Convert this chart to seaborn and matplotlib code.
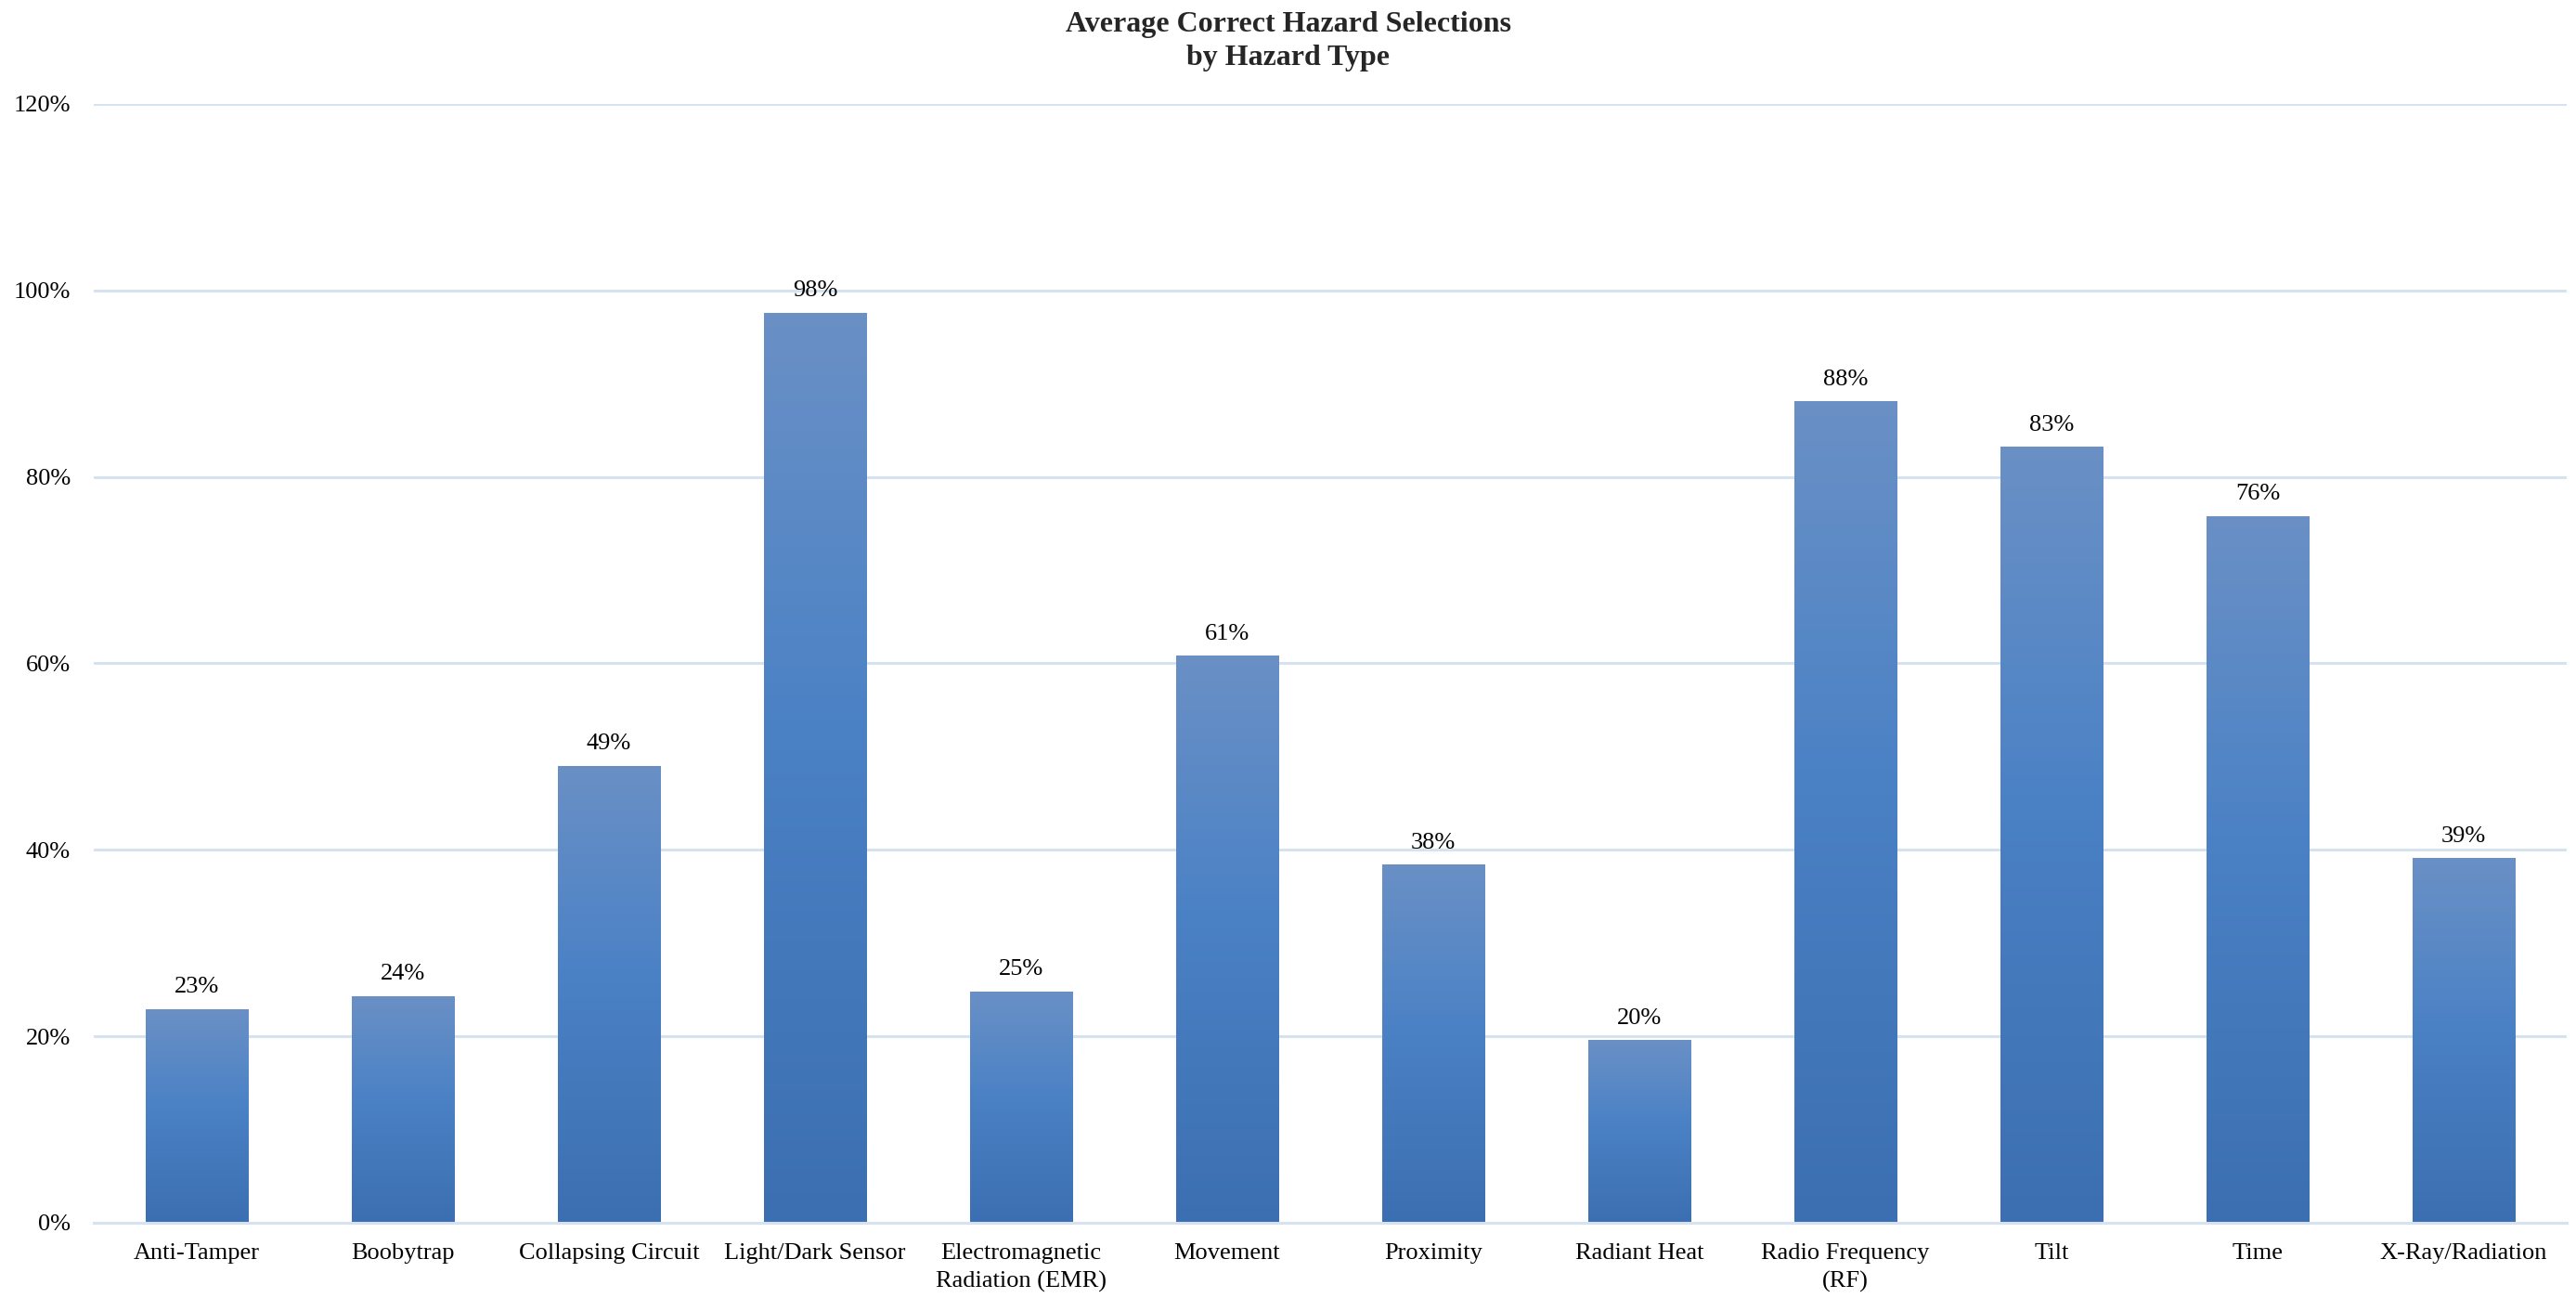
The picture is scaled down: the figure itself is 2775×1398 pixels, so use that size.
import matplotlib
matplotlib.use("Agg")
import matplotlib.pyplot as plt
import numpy as np
import pandas as pd
import seaborn as sns
from matplotlib.colors import LinearSegmentedColormap

# Hazard categories and average share of correct selections (%)
hazards = [
    "Anti-Tamper", "Boobytrap", "Collapsing Circuit", "Light/Dark Sensor",
    "Electromagnetic\nRadiation (EMR)", "Movement", "Proximity", "Radiant Heat",
    "Radio Frequency\n(RF)", "Tilt", "Time", "X-Ray/Radiation",
]
correct_pct = [22.9, 24.3, 49.0, 97.6, 24.8, 60.8, 38.4, 19.6, 88.1, 83.2, 75.8, 39.1]
y_ticks = [0, 20, 40, 60, 80, 100, 120]

df = pd.DataFrame({"hazard": hazards, "pct": correct_pct})

sns.set_theme(style="white")
plt.rcParams["font.family"] = ["Liberation Serif", "DejaVu Serif"]

fig = plt.figure(figsize=(27.75, 13.98), dpi=100)
ax = fig.add_axes([0.0364, 0.058, 0.96, 0.862])

sns.barplot(data=df, x="hazard", y="pct", ax=ax, width=0.5,
            color="#4F84C4", linewidth=0, saturation=1)

# Vertical gradient fill for each bar: lighter top, brighter middle, darker base
grad_cmap = LinearSegmentedColormap.from_list(
    "bar_grad", [(0.0, "#3B6FB1"), (0.55, "#4B82C5"), (1.0, "#6A90C6")])
grad = np.linspace(0, 1, 256).reshape(-1, 1)
for patch in ax.patches:
    x0, y0 = patch.get_x(), patch.get_y()
    w, h = patch.get_width(), patch.get_height()
    im = ax.imshow(grad, cmap=grad_cmap, origin="lower", aspect="auto",
                   extent=(x0, x0 + w, y0, y0 + h), zorder=2,
                   interpolation="bicubic")
    im.set_clip_path(patch)
    patch.set_facecolor("none")

# Value labels above bars
for i, v in enumerate(correct_pct):
    ax.annotate(f"{v:.0f}%", xy=(i, v), xytext=(0, 9), textcoords="offset points",
                ha="center", va="bottom", fontsize=19, color="black", zorder=3)

ax.set_xlim(-0.5, len(hazards) - 0.5)
ax.set_ylim(0, 120)
ax.set_yticks(y_ticks)
ax.set_yticklabels([f"{t}%" for t in y_ticks])
ax.yaxis.grid(True, color="#D6E2F0", linewidth=2.2, zorder=0)
ax.set_axisbelow(True)
for side in ["top", "right", "left"]:
    ax.spines[side].set_visible(False)
ax.spines["bottom"].set_color("#D6E2F0")
ax.spines["bottom"].set_linewidth(2.2)
ax.set_xlabel("")
ax.set_ylabel("")
ax.tick_params(axis="both", length=0, labelsize=19, colors="black")
ax.tick_params(axis="y", pad=18)
ax.tick_params(axis="x", pad=16)
for lbl in ax.get_xticklabels():
    lbl.set_linespacing(1.45)

fig.text(0.5, 0.968, "Average Correct Hazard Selections\nby Hazard Type",
         ha="center", va="center", fontsize=23, fontweight="bold", linespacing=1.3)

fig.savefig("out.png", dpi=100, facecolor="white")
